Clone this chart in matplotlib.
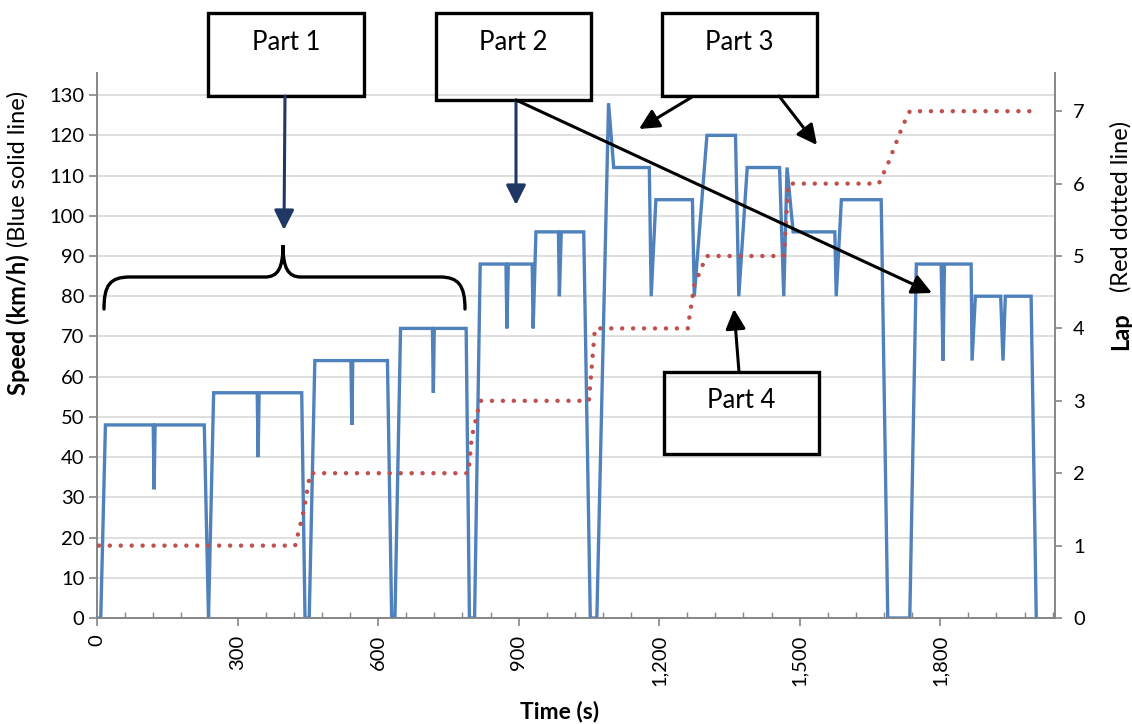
import matplotlib
matplotlib.use("Agg")
import matplotlib.pyplot as plt
from matplotlib.patches import Rectangle, FancyArrowPatch, PathPatch
from matplotlib.path import Path
from matplotlib.transforms import Affine2D
from matplotlib.ticker import FuncFormatter, MultipleLocator

plt.rcParams["font.family"] = ["Lato", "DejaVu Sans"]

# speed trace of the drive cycle (s, km/h)
time_s = [0, 8, 18, 120, 122, 124, 229, 238, 249, 342, 344, 346, 437, 444, 453, 465,
          542, 544, 546, 620, 629, 636, 648, 716, 718, 720, 788, 795, 806, 818,
          873, 875, 878, 929, 931, 937, 985, 987, 991, 1039, 1053, 1067, 1092, 1103,
          1179, 1183, 1193, 1271, 1275, 1302, 1363, 1370, 1388, 1457, 1466, 1473, 1486,
          1575, 1578, 1589, 1674, 1688, 1735, 1749, 1802, 1806, 1809, 1866, 1868, 1875,
          1929, 1934, 1939, 1994, 2005]
speed_kmh = [0, 0, 48, 48, 32, 48, 48, 0, 56, 56, 40, 56, 56, 0, 0, 64,
             64, 48, 64, 64, 0, 0, 72, 72, 56, 72, 72, 0, 0, 88,
             88, 72, 88, 88, 72, 96, 96, 80, 96, 96, 0, 0, 128, 112,
             112, 80, 104, 104, 80, 120, 120, 80, 112, 112, 80, 112, 96,
             96, 80, 104, 104, 0, 0, 88, 88, 64, 88, 88, 64, 80,
             80, 64, 80, 80, 0]

# lap counter
lap_time_s = [4, 423, 442, 455, 793, 800, 818, 1050, 1063, 1261, 1275, 1301,
              1466, 1476, 1669, 1690, 1720, 1735, 2000]
lap_no = [1, 1, 1.5, 2, 2, 2.5, 3, 3, 4, 4, 4.6, 5,
          5, 6, 6, 6.3, 6.8, 7, 7]

speed_ticks = list(range(0, 131, 10))
lap_ticks = list(range(0, 8))
time_ticks = list(range(0, 1801, 300))

W, H = 1132, 724
BLUE = "#4F81BD"
RED = "#C0504D"
NAVY = "#1F3864"
AXIS = "#868686"
TICK_FS = 14.5

fig = plt.figure(figsize=(W / 100, H / 100), dpi=100)
# plot area in pixels: x 97..1055, y 73..618
ax = fig.add_axes([97 / W, 1 - 618 / H, (1055 - 97) / W, (618 - 73) / H])
ax2 = ax.twinx()

ax.plot(time_s, speed_kmh, color=BLUE, lw=2.4, solid_joinstyle="miter", zorder=3)
ax2.plot(lap_time_s, lap_no, color=RED, lw=3.2, linestyle=(0, (0.01, 2.45)),
         dash_capstyle="round", zorder=4)

ymax = 135.5
ax.set_ylim(0, ymax)
ax2.set_ylim(0, ymax / 18.0)
ax.set_xlim(0, 2045)

ax.set_yticks(speed_ticks)
ax2.set_yticks(lap_ticks)
ax.set_xticks(time_ticks)
ax.xaxis.set_minor_locator(MultipleLocator(60))
ax.xaxis.set_major_formatter(FuncFormatter(lambda v, p: f"{v:,.0f}"))

ax.grid(axis="y", color="#D9D9D9", lw=1.2)
ax.set_axisbelow(True)

for a in (ax, ax2):
    for side in ("left", "right", "bottom"):
        a.spines[side].set_color(AXIS)
        a.spines[side].set_linewidth(1.2)
    a.spines["top"].set_visible(False)

ax.tick_params(axis="y", direction="out", length=6, width=1.2, color=AXIS,
               labelsize=TICK_FS, pad=3)
ax2.tick_params(axis="y", direction="out", length=5, width=1.2, color=AXIS,
                labelsize=TICK_FS, pad=8)
ax.tick_params(axis="x", which="major", direction="out", length=6, width=1.2,
               color=AXIS, labelsize=TICK_FS, labelrotation=90, pad=6)
ax.tick_params(axis="x", which="minor", direction="in", length=4, width=1.0, color=AXIS)

# pixel coordinates (origin top-left) for the annotation layer
T = Affine2D().scale(1 / W, -1 / H).translate(0, 1) + fig.transFigure
renderer = fig.canvas.get_renderer()


def split_label(x, y_bottom, bold_part, plain_part, size, gap=7):
    """Rotated axis title: bold part from y_bottom upward, plain part after it."""
    t1 = fig.text(x / W, 1 - y_bottom / H, bold_part, rotation=90, ha="center",
                  va="bottom", fontsize=size, fontweight="bold")
    top = t1.get_window_extent(renderer).y1          # display px from bottom
    fig.text(x / W, (top + gap) / H, plain_part, rotation=90, ha="center",
             va="bottom", fontsize=size)


fig.text(560 / W, 1 - 711 / H, "Time (s)", ha="center", va="center",
         fontsize=16.5, fontweight="bold")
split_label(18, 395, "Speed (km/h)", "(Blue solid line)", 17)
split_label(1121, 350, "Lap", "(Red dotted line)", 17, gap=20)

boxes = [("Part 1", 208, 13, 156, 83),
         ("Part 2", 436, 13, 155, 87),
         ("Part 3", 662, 13, 155, 83),
         ("Part 4", 664, 372, 155, 82)]
for label, bx, by, bw, bh in boxes:
    fig.add_artist(Rectangle((bx, by + bh), bw, -bh, transform=T, fill=False,
                             ec="black", lw=2.4, zorder=5))
    fig.text((bx + bw / 2) / W, 1 - (by + 29) / H, label, ha="center", va="center",
             fontsize=18.5, zorder=6)

arrows = [((285, 96), (284, 230), NAVY),
          ((516, 100), (516, 205), NAVY),
          ((516, 100), (932, 293), "black"),
          ((692, 97), (639, 129), "black"),
          ((779, 96), (817, 145), "black"),
          ((739, 372), (734, 309), "black")]
for (x0, y0), (x1, y1), c in arrows:
    fig.add_artist(FancyArrowPatch((x0, y0), (x1, y1), transform=T,
                                   arrowstyle="-|>,head_length=0.6,head_width=0.3",
                                   mutation_scale=20, lw=2.2, color=c,
                                   shrinkA=0, shrinkB=0, zorder=5))

# curly brace over the first four laps
verts = [(104, 309), (104, 285), (110, 277), (130, 277),
         (265, 277),
         (278, 277), (283, 268), (283, 245),
         (283, 268), (288, 277), (301, 277),
         (440, 277),
         (458, 277), (465, 285), (465, 309)]
codes = [Path.MOVETO, Path.CURVE4, Path.CURVE4, Path.CURVE4,
         Path.LINETO,
         Path.CURVE4, Path.CURVE4, Path.CURVE4,
         Path.CURVE4, Path.CURVE4, Path.CURVE4,
         Path.LINETO,
         Path.CURVE4, Path.CURVE4, Path.CURVE4]
fig.add_artist(PathPatch(Path(verts, codes), transform=T, fill=False, ec="black",
                         lw=2.4, capstyle="round", zorder=5))

fig.savefig("out.png", dpi=100)
